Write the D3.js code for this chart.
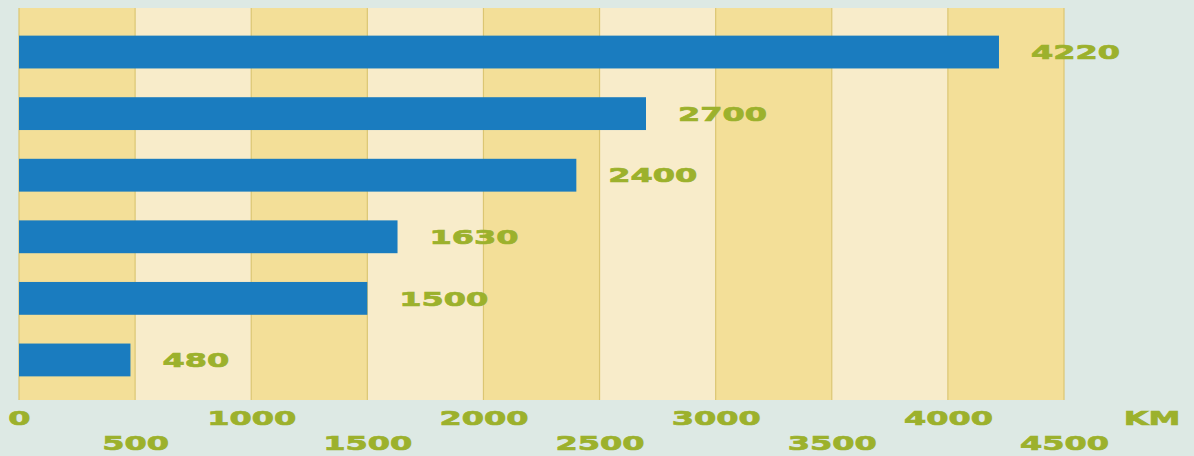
<!DOCTYPE html>
<html>
<head>
<meta charset="utf-8">
<script src="https://cdn.jsdelivr.net/npm/d3@7"></script>
<style>
  html, body { margin: 0; padding: 0; background: #dde9e4; }
  svg { display: block; }
  text { font-family: "DejaVu Sans", sans-serif; font-weight: bold; }
</style>
</head>
<body>
<svg id="chart" width="1194" height="456"></svg>
<script>
// ---- data ----
const categories = ["A", "B", "C", "D", "E", "F"];
const values = [4220, 2700, 2400, 1630, 1500, 480];
const tickValues = [0, 500, 1000, 1500, 2000, 2500, 3000, 3500, 4000, 4500];
const tickLabels = ["0", "500", "1000", "1500", "2000", "2500", "3000", "3500", "4000", "4500"];
const unitLabel = "KM";

// ---- layout ----
const W = 1194, H = 456;
const plot = { left: 19, right: 1064, top: 8, bottom: 400 };
const colors = {
  bg: "#dde9e4", dark: "#f3df98", light: "#f8ecca", line: "#dcc672",
  bar: "#1a7cbf", text: "#9cb12c"
};
const sx = 1.6;   // horizontal stretch for the extended type face
const fs = 20;

const svg = d3.select("#chart");
svg.append("rect").attr("width", W).attr("height", H).attr("fill", colors.bg);

const x = d3.scaleLinear().domain([0, 4500]).range([plot.left, plot.right]);
const y = d3.scaleBand().domain(categories).range([11, 401])
  .paddingInner(0.467).paddingOuter(0.4);

// stripes
const stripes = tickValues.slice(0, -1).map((v, i) => ({ a: v, b: tickValues[i + 1], i }));
svg.append("g").selectAll("rect").data(stripes).join("rect")
  .attr("x", d => x(d.a)).attr("width", d => x(d.b) - x(d.a))
  .attr("y", plot.top).attr("height", plot.bottom - plot.top)
  .attr("fill", d => d.i % 2 === 0 ? colors.dark : colors.light);

// stripe boundary lines
svg.append("g").selectAll("line").data(tickValues).join("line")
  .attr("x1", d => x(d)).attr("x2", d => x(d))
  .attr("y1", plot.top).attr("y2", plot.bottom)
  .attr("stroke", colors.line).attr("stroke-width", 1.2);

// bars
svg.append("g").selectAll("rect").data(values).join("rect")
  .attr("x", x(0)).attr("y", (d, i) => y(categories[i]))
  .attr("width", d => x(d) - x(0)).attr("height", y.bandwidth())
  .attr("fill", colors.bar);

// value labels
svg.append("g").selectAll("text").data(values).join("text")
  .attr("transform", (d, i) => `translate(${x(d) + 32},${y(categories[i]) + y.bandwidth() / 2}) scale(${sx},1)`)
  .attr("dy", "0.36em")
  .attr("font-size", fs)
  .attr("fill", colors.text)
  .attr("stroke", colors.text).attr("stroke-width", 0.7)
  .text(d => d3.format("d")(d));

// axis rows
function axisRow(vals, yPos) {
  const g = svg.append("g").attr("transform", `translate(0,${yPos})`)
    .call(d3.axisBottom(x).tickValues(vals).tickSize(0)
      .tickFormat(v => tickLabels[tickValues.indexOf(v)]));
  g.select(".domain").remove();
  g.selectAll("text")
    .attr("y", 0).attr("dy", "0.36em")
    .attr("font-size", fs)
    .attr("font-family", "DejaVu Sans, sans-serif")
    .attr("font-weight", "bold")
    .attr("fill", colors.text)
    .attr("stroke", colors.text).attr("stroke-width", 0.7)
    .attr("transform", `scale(${sx},1)`);
  return g;
}
axisRow(tickValues.filter(v => v % 1000 === 0), 418);
axisRow(tickValues.filter(v => v % 1000 !== 0), 443);

svg.append("text")
  .attr("transform", `translate(1152,418) scale(${sx},1)`)
  .attr("text-anchor", "middle").attr("dy", "0.36em")
  .attr("font-size", fs).attr("fill", colors.text)
  .attr("stroke", colors.text).attr("stroke-width", 0.7)
  .text(unitLabel);
</script>
</body>
</html>
